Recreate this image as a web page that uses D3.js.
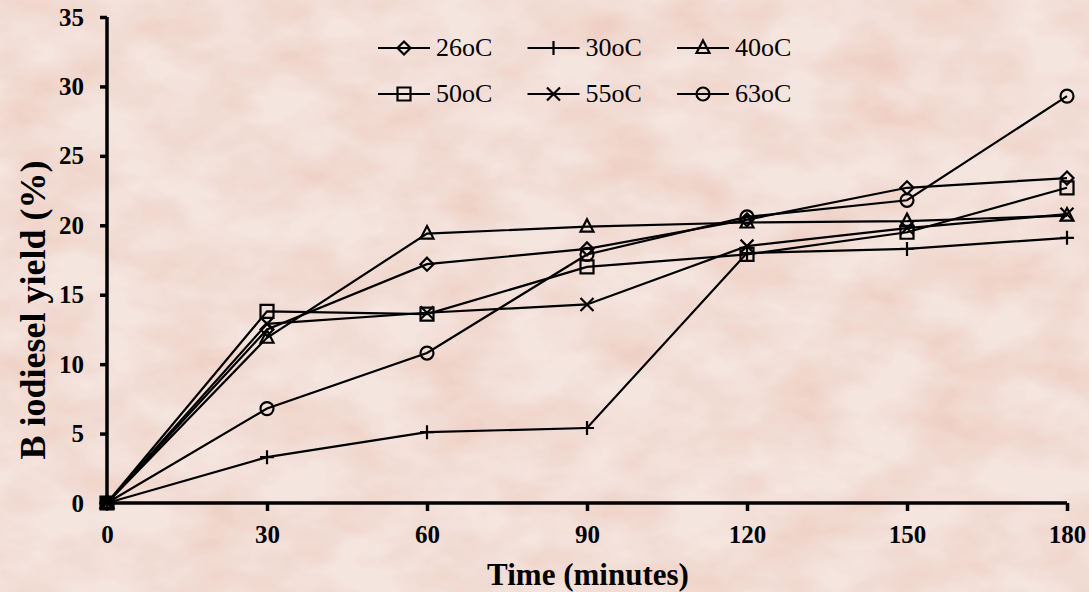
<!DOCTYPE html>
<html>
<head>
    <title>Biodiesel yield vs time</title>
    <script src="https://d3js.org/d3.v7.min.js"></script>
    <style>
        body { margin: 0; }
        text { font-family: "Liberation Serif", "Times New Roman", serif; }
        .tick text { font-size: 25px; font-weight: bold; }
    </style>
</head>
<body>
<script>
    // data
    var times = [0, 30, 60, 90, 120, 150, 180];
    var seriesNames = ["26oC", "30oC", "40oC", "50oC", "55oC", "63oC"];
    var y26 = [0, 12.5, 17.2, 18.3, 20.4, 22.7, 23.4];
    var y30 = [0, 3.3, 5.1, 5.4, 18.0, 18.3, 19.1];
    var y40 = [0, 11.9, 19.4, 19.9, 20.2, 20.3, 20.7];
    var y50 = [0, 13.8, 13.6, 17.0, 17.9, 19.5, 22.7];
    var y55 = [0, 12.9, 13.7, 14.3, 18.5, 19.8, 20.8];
    var y63 = [0, 6.8, 10.8, 17.9, 20.6, 21.8, 29.3];
    var seriesValues = [y26, y30, y40, y50, y55, y63];
    var markerTypes = ["diamond", "plus", "triangle", "square", "cross", "circle"];
    var xTicks = [0, 30, 60, 90, 120, 150, 180];
    var yTicks = [0, 5, 10, 15, 20, 25, 30, 35];

    var W = 1089, H = 592;
    var margin = {top: 17, right: 22, bottom: 89, left: 107};
    var width = W - margin.left - margin.right,
        height = H - margin.top - margin.bottom;

    var svg = d3.select("body").append("svg")
        .attr("width", W)
        .attr("height", H);

    // marble-ish background
    var defs = svg.append("defs");
    var filt = defs.append("filter").attr("id", "marble")
        .attr("x", 0).attr("y", 0).attr("width", "100%").attr("height", "100%");
    filt.append("feTurbulence")
        .attr("type", "fractalNoise")
        .attr("baseFrequency", "0.012 0.02")
        .attr("numOctaves", 4)
        .attr("seed", 7)
        .attr("result", "noise");
    filt.append("feColorMatrix")
        .attr("in", "noise")
        .attr("type", "matrix")
        .attr("values", "0 0 0 0 0.85  0 0 0 0 0.58  0 0 0 0 0.50  1.9 0 0 0 -0.62")
        .attr("result", "tint");
    filt.append("feComposite").attr("in", "tint").attr("in2", "SourceGraphic").attr("operator", "over");

    svg.append("rect").attr("width", W).attr("height", H).attr("fill", "#f4e5df");
    svg.append("rect").attr("width", W).attr("height", H).attr("fill", "#f4e5df")
        .attr("filter", "url(#marble)").attr("opacity", 0.75);

    var g = svg.append("g")
        .attr("transform", "translate(" + margin.left + "," + margin.top + ")");

    var x = d3.scaleLinear().domain([0, 180]).range([0, width]);
    var y = d3.scaleLinear().domain([0, 35]).range([height, 0]);

    var xAxis = d3.axisBottom(x).tickValues(xTicks).tickSize(8).tickPadding(14);
    var yAxis = d3.axisLeft(y).tickValues(yTicks).tickSize(7).tickPadding(16);

    var gx = g.append("g").attr("transform", "translate(0," + height + ")").call(xAxis);
    var gy = g.append("g").call(yAxis);
    [gx, gy].forEach(function(a) {
        a.select(".domain").attr("stroke", "#000").attr("stroke-width", 3.5);
        a.selectAll(".tick line").attr("stroke", "#000").attr("stroke-width", 3.5);
        a.selectAll(".tick text").attr("fill", "#000");
    });
    gx.select(".domain").attr("d", "M0,0H" + width);
    gy.select(".domain").attr("d", "M0," + height + "V0");
    gx.selectAll(".tick").filter(function(d) { return d === 0; }).select("line").remove();

    // marker shapes
    function marker(sel, type) {
        var p;
        if (type === "diamond") p = "M0,-6.5L6.5,0L0,6.5L-6.5,0Z";
        else if (type === "plus") p = "M0,-7V7M-7,0H7";
        else if (type === "triangle") p = "M0,-7.5L6.5,5H-6.5Z";
        else if (type === "square") p = "M-6.5,-6.5H6.5V6.5H-6.5Z";
        else if (type === "cross") p = "M-6.5,-6.5L6.5,6.5M6.5,-6.5L-6.5,6.5";
        else p = null;
        if (p) {
            sel.append("path").attr("d", p)
                .attr("fill", "none").attr("stroke", "#000").attr("stroke-width", 2.2);
        } else {
            sel.append("circle").attr("r", 6.5)
                .attr("fill", "none").attr("stroke", "#000").attr("stroke-width", 2.2);
        }
    }

    var line = d3.line()
        .x(function(d, i) { return x(times[i]); })
        .y(function(d) { return y(d); });

    seriesValues.forEach(function(vals, k) {
        g.append("path")
            .datum(vals)
            .attr("d", line)
            .attr("fill", "none")
            .attr("stroke", "#000")
            .attr("stroke-width", 2.2);
        vals.forEach(function(v, i) {
            var m = g.append("g").attr("transform", "translate(" + x(times[i]) + "," + y(v) + ")");
            marker(m, markerTypes[k]);
        });
    });

    // legend
    var legend = svg.append("g");
    seriesNames.forEach(function(name, k) {
        var col = k % 3, row = Math.floor(k / 3);
        var lx = 378 + col * 149.5, ly = 48 + row * 46;
        var it = legend.append("g").attr("transform", "translate(" + lx + "," + ly + ")");
        it.append("line").attr("x1", 0).attr("x2", 52).attr("y1", 0).attr("y2", 0)
            .attr("stroke", "#000").attr("stroke-width", 2.2);
        var m = it.append("g").attr("transform", "translate(26,0)");
        marker(m, markerTypes[k]);
        it.append("text").attr("x", 58).attr("y", 8)
            .style("font-size", "26px").attr("fill", "#000").text(name);
    });

    // axis titles
    svg.append("text")
        .attr("x", 588)
        .attr("y", 585)
        .attr("text-anchor", "middle")
        .style("font-size", "31px").style("font-weight", "bold")
        .text("Time (minutes)");

    svg.append("text")
        .attr("transform", "translate(45,310) rotate(-90)")
        .attr("text-anchor", "middle")
        .style("font-size", "36px").style("font-weight", "bold")
        .text("B iodiesel yield (%)");
</script>
</body>
</html>
